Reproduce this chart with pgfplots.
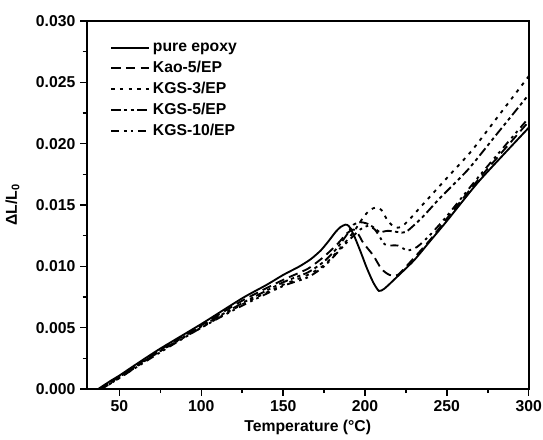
\documentclass[border=0pt]{standalone}
\usepackage{pgfplots}
\pgfplotsset{compat=1.18}
\usepackage{fontspec}
\setmainfont{Liberation Sans}
\newcommand{\lf}{\fontsize{11.8}{13}\selectfont\bfseries}
\begin{document}
\begin{tikzpicture}
\useasboundingbox (-65pt,-37.5pt) rectangle (342.2pt,291.75pt);
\begin{axis}[
  scale only axis,
  width=331.5pt, height=276pt,
  xmin=30, xmax=300, ymin=0, ymax=0.03,
  xtick={50,100,150,200,250,300},
  ytick={0,0.005,0.01,0.015,0.02,0.025,0.03},
  minor x tick num=1, minor y tick num=1,
  scaled y ticks=false,
  yticklabel style={/pgf/number format/.cd, fixed, fixed zerofill, precision=3},
  /pgf/number format/assume math mode=true,
  tick label style={font=\lf},
  tick align=outside,
  xtick pos=bottom, ytick pos=left,
  major tick length=5pt, minor tick length=3pt,
  every tick/.style={black, line width=1.1pt},
  axis line style={line width=1.4pt},
  xlabel={Temperature (°C)},
  ylabel={ΔL/L\textsubscript{0}},
  label style={font=\lf},
  xlabel style={at={(axis description cs:0.5,-0.103)}, anchor=center},
  ylabel style={at={(axis description cs:-0.168,0.5)}, anchor=center},
  legend style={at={(0.05,0.952)}, anchor=north west, draw=none, fill=none, font=\lf, row sep=1.7pt, inner sep=1pt},
  legend cell align=left,
  legend image code/.code={\draw[#1] (0pt,0pt) -- (28.5pt,0pt);},
  every axis plot/.append style={line width=1.4pt, black},
]
\addplot[smooth, tension=0.4] coordinates {
(37,0) (45,0.0007) (50,0.0011) (60,0.0020) (75,0.0033) (100,0.0053) (125,0.0074) (140,0.0085) (150,0.0093) (160,0.0100) (167,0.0106) (173,0.0113) (178,0.0121) (182,0.0128) (185,0.0132) (188,0.0134) (190,0.0133) (193,0.0126) (197,0.0113) (201,0.0099) (205,0.0087) (208.5,0.0080) (212,0.0082) (220,0.0092) (230,0.0105) (240,0.0121) (250,0.0137) (270,0.0170) (300,0.0213)
};
\addlegendentry{pure epoxy}
\addplot[smooth, tension=0.4, dash pattern=on 7pt off 4pt] coordinates {
(38,0) (50,0.0010) (75,0.0032) (100,0.0052) (125,0.0072) (150,0.0089) (165,0.0098) (175,0.0108) (183,0.0118) (189,0.0127) (193,0.0130) (196,0.0126) (199,0.0119) (205,0.0109) (210,0.0098) (215,0.0093) (220,0.0093) (230,0.0107) (240,0.0122) (250,0.0139) (270,0.0172) (300,0.0218)
};
\addlegendentry{Kao-5/EP}
\addplot[smooth, tension=0.4, dash pattern=on 2.5pt off 4pt] coordinates {
(39,0) (50,0.0009) (75,0.0031) (100,0.0050) (125,0.0069) (150,0.0085) (165,0.0093) (175,0.0101) (185,0.0115) (193,0.0128) (199,0.0140) (203,0.0146) (207,0.0148) (210,0.0146) (214,0.0137) (218,0.0132) (222,0.0132) (227,0.0138) (233,0.0147) (250,0.0172) (265,0.0194) (280,0.0220) (300,0.0255)
};
\addlegendentry{KGS-3/EP}
\addplot[smooth, tension=0.4, dash pattern=on 7pt off 2.5pt on 2.5pt off 2.5pt on 2.5pt off 2.5pt] coordinates {
(38,0) (50,0.0010) (75,0.0031) (100,0.0051) (125,0.0070) (150,0.0087) (165,0.0095) (175,0.0104) (183,0.0115) (189,0.0126) (193,0.0134) (197,0.0136) (201,0.0135) (205,0.0132) (209,0.0128) (214,0.0129) (220,0.0128) (225,0.0128) (235,0.0140) (246,0.0156) (263,0.0179) (280,0.0207) (300,0.0240)
};
\addlegendentry{KGS-5/EP}
\addplot[smooth, tension=0.4, dash pattern=on 6pt off 3.5pt on 2pt off 3pt on 2pt off 3.5pt] coordinates {
(39,0) (50,0.0009) (75,0.0030) (100,0.0050) (125,0.0068) (150,0.0084) (165,0.0091) (175,0.0100) (183,0.0111) (190,0.0121) (197,0.0130) (202,0.0133) (206,0.0130) (209,0.0124) (212,0.0118) (216,0.0117) (220,0.0117) (226,0.0113) (232,0.0116) (240,0.0126) (250,0.0141) (270,0.0174) (300,0.0221)
};
\addlegendentry{KGS-10/EP}
\end{axis}
\end{tikzpicture}
\end{document}
